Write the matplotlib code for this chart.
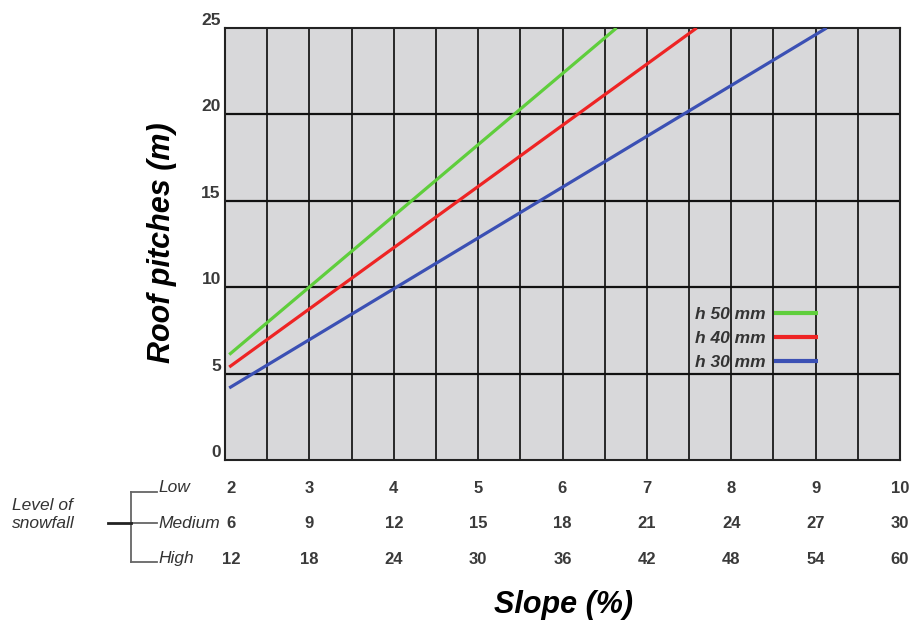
import matplotlib
matplotlib.use("Agg")
import matplotlib.pyplot as plt
from matplotlib.lines import Line2D
from matplotlib.transforms import ScaledTranslation, blended_transform_factory
import numpy as np

# ---- data ----
series_labels = ["h 50 mm", "h 40 mm", "h 30 mm"]
series_colors = ["#5fce3c", "#ee2424", "#3b50b4"]
h50_x = [2.05, 6.64]
h50_y = [6.1, 25.0]
h40_x = [2.05, 7.59]
h40_y = [5.38, 25.0]
h30_x = [2.05, 9.13]
h30_y = [4.17, 25.0]

slope_low = [2, 3, 4, 5, 6, 7, 8, 9, 10]
slope_medium = [6, 9, 12, 15, 18, 21, 24, 27, 30]
slope_high = [12, 18, 24, 30, 36, 42, 48, 54, 60]
row_names = ["Low", "Medium", "High"]
y_ticks = [0, 5, 10, 15, 20, 25]
x_grid = np.arange(2, 10.01, 0.5)

plt.rcParams['font.family'] = ['Liberation Sans', 'DejaVu Sans']
num_family = ['Liberation Sans Narrow', 'Liberation Sans']
num_font = dict(family=num_family, size=12, color="#3a3a3a", weight="bold")

W, H = 916, 621
fig = plt.figure(figsize=(W / 100, H / 100), dpi=100)
ax = fig.add_axes([225 / W, 1 - 460 / H, (900 - 225) / W, (460 - 28) / H])
ax.set_facecolor("#d8d8da")
ax.set_xlim(2, 10)
ax.set_ylim(0, 25)

# grid
for xv in x_grid:
    ax.axvline(xv, color="#1a1a1a", lw=1.3, zorder=1)
for yv in y_ticks[1:-1]:
    ax.axhline(yv, color="#111111", lw=1.6, zorder=1)
for s in ax.spines.values():
    s.set_color("#222222")
    s.set_linewidth(1.5)

# series
for xs, ys, c, lab in zip([h50_x, h40_x, h30_x], [h50_y, h40_y, h30_y],
                          series_colors, series_labels):
    ax.plot(xs, ys, color=c, lw=2.3, label=lab, zorder=3, solid_capstyle='butt')

leg = ax.legend(loc="upper right", bbox_to_anchor=(818 / W, 1 - 307 / H),
                bbox_transform=fig.transFigure, frameon=False, markerfirst=False,
                handlelength=2.55, handletextpad=0.45, labelspacing=0.5,
                borderpad=0, borderaxespad=0,
                prop=dict(size=12.5, style="italic", weight="bold"))
for t in leg.get_texts():
    t.set_color("#333333")
for l in leg.get_lines():
    l.set_linewidth(3)

# y ticks
ax.set_yticks(y_ticks)
ax.set_yticklabels([str(v) for v in y_ticks])
for lab in ax.get_yticklabels():
    lab.set_family(num_family)
    lab.set_fontsize(12.5)
    lab.set_fontweight("bold")
    lab.set_color("#3a3a3a")
ax.tick_params(axis="y", length=0, pad=3)
for lab in ax.get_yticklabels():
    lab.set_transform(lab.get_transform() + ScaledTranslation(0, 0.09, fig.dpi_scale_trans))

# x ticks (Low row)
ax.set_xticks(slope_low)
ax.set_xticklabels([str(v) for v in slope_low])
for lab in ax.get_xticklabels():
    lab.set_family(num_family)
    lab.set_fontsize(num_font['size'])
    lab.set_fontweight("bold")
    lab.set_color(num_font['color'])
ax.tick_params(axis="x", length=0, pad=15)
first_shift = ScaledTranslation(0.06, 0, fig.dpi_scale_trans)
xl = ax.get_xticklabels()[0]
xl.set_transform(xl.get_transform() + first_shift)

# other rows
trans = blended_transform_factory(ax.transData, fig.transFigure)
for vals, ypix in [(slope_medium, 523), (slope_high, 559)]:
    for i, (xv, v) in enumerate(zip(slope_low, vals)):
        tr = trans + first_shift if i == 0 else trans
        ax.text(xv, 1 - ypix / H, str(v), transform=tr, ha="center", va="center",
                clip_on=False, **num_font)

# row names and bracket
for name, ypix in zip(row_names, [487, 523, 559]):
    fig.text(158 / W, 1 - ypix / H, name, ha="left", va="center", fontsize=12.5,
             style="italic", color="#333333")
for ypix in [492, 523, 562]:
    fig.add_artist(Line2D([131 / W, 157 / W], [1 - ypix / H, 1 - ypix / H],
                          color="#666666", lw=1.3))
fig.add_artist(Line2D([131 / W, 131 / W], [1 - 492 / H, 1 - 562 / H],
                      color="#666666", lw=1.3))
fig.add_artist(Line2D([108 / W, 131 / W], [1 - 523 / H, 1 - 523 / H],
                      color="#222222", lw=2))
fig.text(12 / W, 1 - 514 / H, "Level of\nsnowfall", ha="left", va="center",
         fontsize=12.5, style="italic", color="#333333", linespacing=1.25)

# axis labels
fig.text(162 / W, 1 - 243 / H, "Roof pitches (m)", rotation=90, ha="center",
         va="center", fontsize=22, fontweight="bold", style="italic", color="black")
fig.text(564 / W, 1 - 605 / H, "Slope (%)", ha="center", va="center",
         fontsize=22, fontweight="bold", style="italic", color="black")

fig.savefig("out.png", dpi=100)
